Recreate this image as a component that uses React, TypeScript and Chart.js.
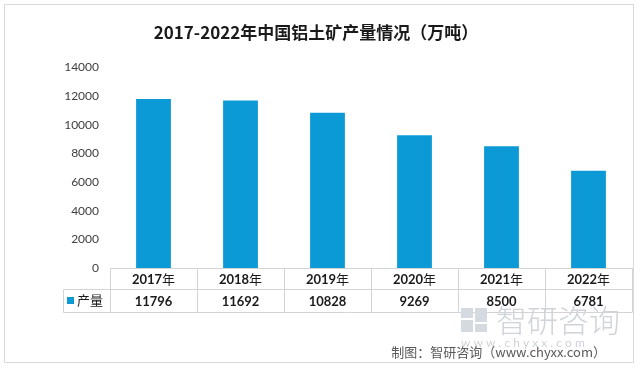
import React, { useEffect, useRef } from "react";
import { Chart, registerables } from "chart.js";

Chart.register(...registerables);

const titleText = "2017-2022年中国铝土矿产量情况（万吨）";
const categories = ["2017年", "2018年", "2019年", "2020年", "2021年", "2022年"];
const seriesName = "产量";
const values = [11796, 11692, 10828, 9269, 8500, 6781];
const yTicks = [0, 2000, 4000, 6000, 8000, 10000, 12000, 14000];
const sourceText = "制图：智研咨询（www.chyxx.com）";
const watermarkText = "智研咨询";
const watermarkUrl = "w w w . c h y x x . c o m";

const BAR_COLOR = "#0C9AD7";
const NUM_FONT = "Lato, 'Open Sans', 'Noto Sans CJK SC', sans-serif";
const CJK_FONT = "'Noto Sans CJK SC', Lato, sans-serif";

const tablePlugin = {
  id: "dataTable",
  beforeDraw(chart: any) {
    const ctx = chart.ctx;
    ctx.save();
    ctx.strokeStyle = "#d9d9d9";
    ctx.lineWidth = 1;
    ctx.beginPath();
    ctx.rect(4.5, 4.5, 629, 358);
    ctx.stroke();
    ctx.restore();
  },
  afterDraw(chart: any) {
    const ctx = chart.ctx;
    const x = chart.scales.x;
    const area = chart.chartArea;
    const n = categories.length;
    const step = (area.right - area.left) / n;
    const top = area.bottom;
    const mid = top + 21.5;
    const bot = top + 44.5;
    const legLeft = 63.5;
    ctx.save();
    ctx.strokeStyle = "#d4d4d4";
    ctx.lineWidth = 1;
    ctx.beginPath();
    ctx.moveTo(area.left, top + 0.5);
    ctx.lineTo(area.right, top + 0.5);
    ctx.moveTo(legLeft, mid);
    ctx.lineTo(area.right, mid);
    ctx.moveTo(legLeft, bot);
    ctx.lineTo(area.right, bot);
    ctx.moveTo(legLeft, mid);
    ctx.lineTo(legLeft, bot);
    for (let i = 0; i <= n; i++) {
      const px = Math.round(area.left + i * step) + 0.5;
      ctx.moveTo(px, top);
      ctx.lineTo(px, bot);
    }
    ctx.stroke();

    ctx.textBaseline = "middle";
    ctx.fillStyle = "#1a1a1a";
    categories.forEach((c, i) => {
      const cx = x.getPixelForValue(i);
      ctx.font = `bold 13px ${NUM_FONT}`;
      const num = c.replace("年", "");
      const wNum = ctx.measureText(num).width;
      ctx.font = `13px ${CJK_FONT}`;
      const wYr = ctx.measureText("年").width;
      const start = cx - (wNum + wYr) / 2;
      ctx.textAlign = "left";
      ctx.font = `bold 13px ${NUM_FONT}`;
      ctx.fillText(num, start, top + 11.5);
      ctx.font = `13px ${CJK_FONT}`;
      ctx.fillText("年", start + wNum, top + 11);
      ctx.textAlign = "center";
      ctx.font = `bold 13px ${NUM_FONT}`;
      ctx.fillText(String(values[i]), cx, top + 33.5);
    });
    ctx.fillStyle = BAR_COLOR;
    ctx.fillRect(67, top + 29, 7, 7);
    ctx.fillStyle = "#1a1a1a";
    ctx.textAlign = "left";
    ctx.font = `13px ${CJK_FONT}`;
    ctx.fillText(seriesName, 77, top + 32.5);

    // watermark
    ctx.fillStyle = "#d5dae1";
    ctx.fillRect(461, 308, 12, 10);
    ctx.fillRect(461, 320, 12, 12);
    ctx.fillRect(475, 308, 12, 14);
    ctx.fillRect(475, 324, 12, 8);
    ctx.fillStyle = "#cfd3da";
    ctx.font = `300 31px ${CJK_FONT}`;
    ctx.fillText(watermarkText, 496, 320);
    ctx.font = `12px ${NUM_FONT}`;
    ctx.fillText(watermarkUrl, 461, 343);

    ctx.fillStyle = "#595959";
    ctx.font = `13px ${CJK_FONT}`;
    ctx.textAlign = "right";
    ctx.fillText(sourceText, 606, 352);
    ctx.restore();
  },
};

export default function App() {
  const ref = useRef<HTMLCanvasElement>(null);
  useEffect(() => {
    const chart = new Chart(ref.current!, {
      type: "bar",
      data: {
        labels: categories,
        datasets: [
          {
            label: seriesName,
            data: values,
            backgroundColor: BAR_COLOR,
            categoryPercentage: 1,
            barPercentage: 0.4,
          },
        ],
      },
      options: {
        animation: false,
        responsive: false,
        layout: { padding: { left: 0, right: 8, top: 0, bottom: 102 } },
        plugins: {
          legend: { display: false },
          tooltip: { enabled: false },
          title: {
            display: true,
            text: titleText,
            color: "#1a1a1a",
            font: { size: 17, weight: "bold", family: CJK_FONT },
            padding: { top: 22, bottom: 25 },
          },
        },
        scales: {
          x: { display: false },
          y: {
            min: 0,
            max: 14000,
            afterFit: (s: any) => {
              s.width = 110;
            },
            afterBuildTicks: (s: any) => {
              s.ticks = yTicks.map((v) => ({ value: v }));
            },
            grid: { display: false, drawTicks: false },
            border: { display: false },
            ticks: {
              color: "#404040",
              padding: 11,
              font: { size: 12, family: NUM_FONT },
              callback: (v: any) => String(v),
            },
          },
        },
      },
      plugins: [tablePlugin],
    });
    return () => chart.destroy();
  }, []);
  return (
    <div style={{ position: "absolute", left: 0, top: 0, width: 640, height: 370, background: "#fff" }}>
      <canvas ref={ref} width={640} height={370} style={{ width: 640, height: 370 }} />
    </div>
  );
}
